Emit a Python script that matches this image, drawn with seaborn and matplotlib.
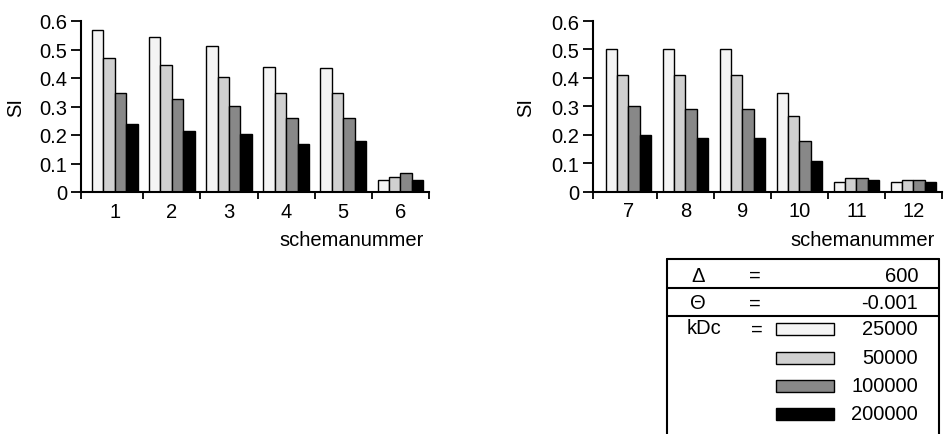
import matplotlib
matplotlib.use("Agg")
import matplotlib.pyplot as plt
from matplotlib.patches import Rectangle
from matplotlib.lines import Line2D
import numpy as np
import pandas as pd
import seaborn as sns

# ---------------- data ----------------
schemas_left = ["1", "2", "3", "4", "5", "6"]
schemas_right = ["7", "8", "9", "10", "11", "12"]
kdc_levels = ["25000", "50000", "100000", "200000"]

si_25000_left = [0.570, 0.545, 0.513, 0.440, 0.435, 0.043]
si_50000_left = [0.470, 0.445, 0.403, 0.348, 0.347, 0.054]
si_100000_left = [0.348, 0.325, 0.302, 0.260, 0.258, 0.065]
si_200000_left = [0.239, 0.214, 0.204, 0.170, 0.178, 0.043]

si_25000_right = [0.500, 0.500, 0.500, 0.345, 0.034, 0.032]
si_50000_right = [0.409, 0.410, 0.410, 0.264, 0.046, 0.040]
si_100000_right = [0.300, 0.289, 0.289, 0.178, 0.048, 0.040]
si_200000_right = [0.198, 0.190, 0.190, 0.106, 0.041, 0.032]

y_ticks = [0, 0.1, 0.2, 0.3, 0.4, 0.5, 0.6]
y_tick_labels = ["0", "0.1", "0.2", "0.3", "0.4", "0.5", "0.6"]

delta_value = "600"
theta_value = "-0.001"
x_label = "schemanummer"
y_label = "SI"

# ---------------- style ----------------
sns.set_style("ticks")
plt.rcParams["font.family"] = ["Liberation Sans", "DejaVu Sans"]
for key in ("text.color", "axes.labelcolor", "xtick.color", "ytick.color", "axes.edgecolor"):
    plt.rcParams[key] = "black"
FS = 14.5

colors = {"25000": "#f4f4f4", "50000": "#d0d0d0", "100000": "#888888", "200000": "#000000"}


def make_df(schemas, series):
    rows = []
    for lvl, vals in zip(kdc_levels, series):
        for s, v in zip(schemas, vals):
            rows.append({"schema": s, "kDc": lvl, "SI": v})
    return pd.DataFrame(rows)


df_left = make_df(schemas_left, [si_25000_left, si_50000_left, si_100000_left, si_200000_left])
df_right = make_df(schemas_right, [si_25000_right, si_50000_right, si_100000_right, si_200000_right])

W, H = 944, 435
fig = plt.figure(figsize=(W / 100, H / 100), dpi=100)


def fx(px):
    return px / W


def fy(py):
    return 1 - py / H


ax1 = fig.add_axes([fx(81), fy(193), 348 / W, 171 / H])
ax2 = fig.add_axes([fx(593), fy(192.5), 349 / W, 170.5 / H])


def draw(ax, df, schemas, xmin, label_x, ylabel_x):
    sns.barplot(data=df, x="schema", y="SI", hue="kDc", order=schemas,
                hue_order=kdc_levels, palette=colors, saturation=1,
                edgecolor="black", linewidth=1.0, width=0.8, errorbar=None,
                legend=False, ax=ax)
    ax.set_xlim(xmin, 5.5)
    ax.set_ylim(0, 0.6)
    ax.set_yticks(y_ticks)
    ax.set_yticklabels(y_tick_labels, fontsize=FS)
    ax.set_xticks(range(len(schemas)))
    ax.set_xticklabels(schemas, fontsize=FS)
    ax.set_xticks([xmin] + [i + 0.5 for i in range(len(schemas))], minor=True)
    ax.tick_params(axis="x", which="major", length=0, pad=7)
    ax.tick_params(axis="x", which="minor", length=5, width=1.3, direction="out")
    ax.tick_params(axis="y", which="major", length=7, width=1.3, direction="out", pad=3)
    for side in ("top", "right"):
        ax.spines[side].set_visible(False)
    for side in ("left", "bottom"):
        ax.spines[side].set_linewidth(1.5)
        ax.spines[side].set_color("black")
    ax.set_xlabel(x_label, fontsize=FS, ha="right", va="top")
    ax.xaxis.set_label_coords(label_x, -0.225)
    ax.set_ylabel(y_label, fontsize=FS)
    ax.yaxis.set_label_coords(ylabel_x, 0.5)
    ax.set_facecolor("white")


draw(ax1, df_left, schemas_left, -0.59, 0.985, -0.16)
draw(ax2, df_right, schemas_right, -0.62, 0.98, -0.165)

# ---------------- legend table ----------------
lw = 1.5
L, R, T = 667, 939, 260
for y in (T, 289, 317):
    fig.add_artist(Line2D([fx(L), fx(R)], [fy(y), fy(y)], transform=fig.transFigure,
                          color="black", lw=lw))
for x in (L, R):
    fig.add_artist(Line2D([fx(x), fx(x)], [fy(T), fy(H)], transform=fig.transFigure,
                          color="black", lw=lw))

fig.text(fx(698), fy(276), "Δ", ha="center", va="center", fontsize=FS)
fig.text(fx(755), fy(276), "=", ha="center", va="center", fontsize=FS)
fig.text(fx(918), fy(276), delta_value, ha="right", va="center", fontsize=FS)
fig.text(fx(698), fy(304), "Θ", ha="center", va="center", fontsize=FS)
fig.text(fx(755), fy(304), "=", ha="center", va="center", fontsize=FS)
fig.text(fx(918), fy(304), theta_value, ha="right", va="center", fontsize=FS)

fig.text(fx(687), fy(329), "kDc", ha="left", va="center", fontsize=FS)
fig.text(fx(757), fy(330), "=", ha="center", va="center", fontsize=FS)
row_y = [330, 359, 387, 415]
for lvl, yc in zip(kdc_levels, row_y):
    fig.add_artist(Rectangle((fx(776), fy(yc + 6)), 58 / W, 12 / H,
                             transform=fig.transFigure, facecolor=colors[lvl],
                             edgecolor="black", lw=1.0))
    fig.text(fx(918), fy(yc), lvl, ha="right", va="center", fontsize=FS)

fig.savefig("out.png", dpi=100, facecolor="white")
